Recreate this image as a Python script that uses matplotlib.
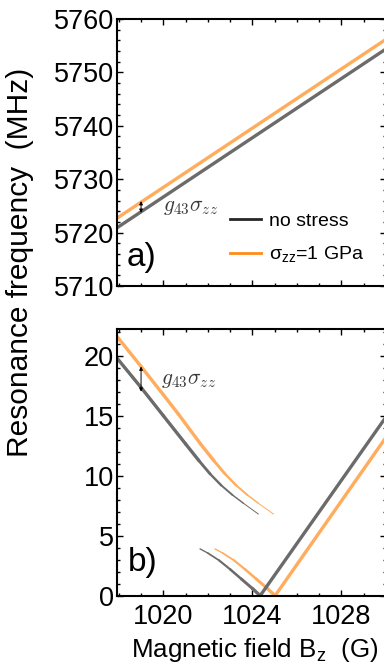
import matplotlib
matplotlib.use("Agg")
import matplotlib.pyplot as plt
from matplotlib.collections import LineCollection
from matplotlib.lines import Line2D
from matplotlib.ticker import MultipleLocator

plt.rcParams["font.family"] = ["Liberation Sans", "DejaVu Sans"]
plt.rcParams["mathtext.fontset"] = "dejavusans"

# panel a: high-frequency transition (MHz) vs field (G)
B_a = [1017.92, 1030.0]
f_a_nostress = [5720.9, 5754.4]
f_a_stress = [5722.7, 5756.2]

# panel b: low-frequency transition near the level anticrossing
B_up_nostress = [1017.92, 1019.0, 1020.0, 1021.0, 1021.6, 1022.1, 1022.6, 1023.1, 1023.6, 1024.27]
f_up_nostress = [19.8, 17.35, 15.0, 12.65, 11.25, 10.15, 9.2, 8.4, 7.7, 6.8]
B_up_stress = [1017.92, 1019.0, 1020.0, 1020.67, 1021.67, 1022.27, 1022.77, 1023.27, 1023.77,
               1024.27, 1024.95]
f_up_stress = [21.6, 19.1, 16.75, 15.15, 12.65, 11.25, 10.15, 9.2, 8.4, 7.7, 6.8]

B_low_nostress = [1021.65, 1022.0, 1022.5, 1023.0, 1023.5, 1024.0, 1024.35, 1030.0]
f_low_nostress = [3.9, 3.55, 2.95, 2.2, 1.4, 0.6, 0.0, 14.9]
B_low_stress = [1022.32, 1022.67, 1023.17, 1023.67, 1024.17, 1024.67, 1025.02, 1030.0]
f_low_stress = [3.9, 3.55, 2.95, 2.2, 1.4, 0.6, 0.0, 13.2]

GRAY = "#6b6b6b"
ORANGE = "#ffac5c"


def tapered(ax, x, y, w_start, w_end, n_flat, color):
    # constant width on n_flat segments, then a linear taper
    segs = [[(x[i], y[i]), (x[i + 1], y[i + 1])] for i in range(len(x) - 1)]
    n = len(segs)
    widths = []
    for i in range(n):
        if i < n_flat:
            widths.append(w_start)
        else:
            t = (i - n_flat + 1) / max(n - n_flat, 1)
            widths.append(w_start + (w_end - w_start) * t)
    lc = LineCollection(segs, linewidths=widths, colors=color, capstyle="round")
    ax.add_collection(lc)


def style_axes(ax):
    for s in ax.spines.values():
        s.set_linewidth(1.5)
    ax.tick_params(which="both", direction="in", top=True, right=True,
                   labelsize=19.5, width=1.0, pad=2)
    ax.tick_params(which="major", length=4)
    ax.tick_params(which="minor", length=2.2)
    ax.xaxis.set_major_locator(MultipleLocator(4))
    ax.xaxis.set_minor_locator(MultipleLocator(1))
    ax.set_xlim(1017.92, 1030.0)


fig = plt.figure(figsize=(3.84, 6.64), dpi=100)
W, H = 384, 664
ax_a = fig.add_axes([117 / W, 1 - 286 / H, 269 / W, 267 / H])
ax_b = fig.add_axes([117 / W, 1 - 595.7 / H, 269 / W, 266.4 / H])

# ---- panel a
ax_a.plot(B_a, f_a_nostress, color=GRAY, lw=2.4, solid_capstyle="butt")
ax_a.plot(B_a, f_a_stress, color=ORANGE, lw=2.4, solid_capstyle="butt")
style_axes(ax_a)
ax_a.set_ylim(5710, 5760)
ax_a.yaxis.set_major_locator(MultipleLocator(10))
ax_a.yaxis.set_minor_locator(MultipleLocator(2))
ax_a.tick_params(labelbottom=False)
ax_a.annotate("", xy=(1019.0, 5723.7), xytext=(1019.0, 5725.9),
              arrowprops=dict(arrowstyle="<|-|>", color="black", lw=0.7,
                              mutation_scale=5, shrinkA=0, shrinkB=0))
ax_a.text(1020.0, 5724.85, r"$g_{43}\sigma_{zz}$", math_fontfamily="cm",
          fontsize=15.5, color="#3a3a3a", va="center", ha="left")
ax_a.text(0.035, 0.105, "a)", transform=ax_a.transAxes, fontsize=24,
          va="center", ha="left")
handles = [Line2D([], [], color="#262626", lw=2),
           Line2D([], [], color="#ff8c1a", lw=2)]
ax_a.legend(handles, ["no stress", r"σ$_\mathregular{zz}$=1 GPa"],
            loc="lower left", bbox_to_anchor=(0.42, 0.08), frameon=False,
            fontsize=14, handlelength=1.6, handletextpad=0.4,
            labelspacing=0.75, borderpad=0, borderaxespad=0)

# ---- panel b
tapered(ax_b, B_up_nostress, f_up_nostress, 2.4, 0.7, 4, GRAY)
tapered(ax_b, B_up_stress, f_up_stress, 2.4, 0.7, 5, ORANGE)
tapered(ax_b, B_low_stress[:-1], f_low_stress[:-1], 0.7, 2.4, 0, ORANGE)
ax_b.plot(B_low_stress[-2:], f_low_stress[-2:], color=ORANGE, lw=2.4)
tapered(ax_b, B_low_nostress[:-1], f_low_nostress[:-1], 0.7, 2.4, 0, GRAY)
ax_b.plot(B_low_nostress[-2:], f_low_nostress[-2:], color=GRAY, lw=2.4)
style_axes(ax_b)
ax_b.set_ylim(0, 22.2)
ax_b.yaxis.set_major_locator(MultipleLocator(5))
ax_b.yaxis.set_minor_locator(MultipleLocator(1))
ax_b.tick_params(axis="x", pad=6)
ax_b.annotate("", xy=(1019.0, 17.0), xytext=(1019.0, 19.1),
              arrowprops=dict(arrowstyle="<|-|>", color="black", lw=0.7,
                              mutation_scale=5, shrinkA=0, shrinkB=0))
ax_b.text(1019.88, 18.0, r"$g_{43}\sigma_{zz}$", math_fontfamily="cm",
          fontsize=15.5, color="#3a3a3a", va="center", ha="left")
ax_b.text(0.04, 0.123, "b)", transform=ax_b.transAxes, fontsize=24,
          va="center", ha="left")

fig.text(0.053, 1 - 262 / H, "Resonance frequency  (MHz)", rotation=90,
         fontsize=21.5, ha="center", va="center")
fig.text(254.5 / W, 1 - 656.7 / H, r"Magnetic field B$_\mathregular{z}$  (G)",
         fontsize=18.7, ha="center", va="baseline")

fig.savefig("out.png", dpi=100)
